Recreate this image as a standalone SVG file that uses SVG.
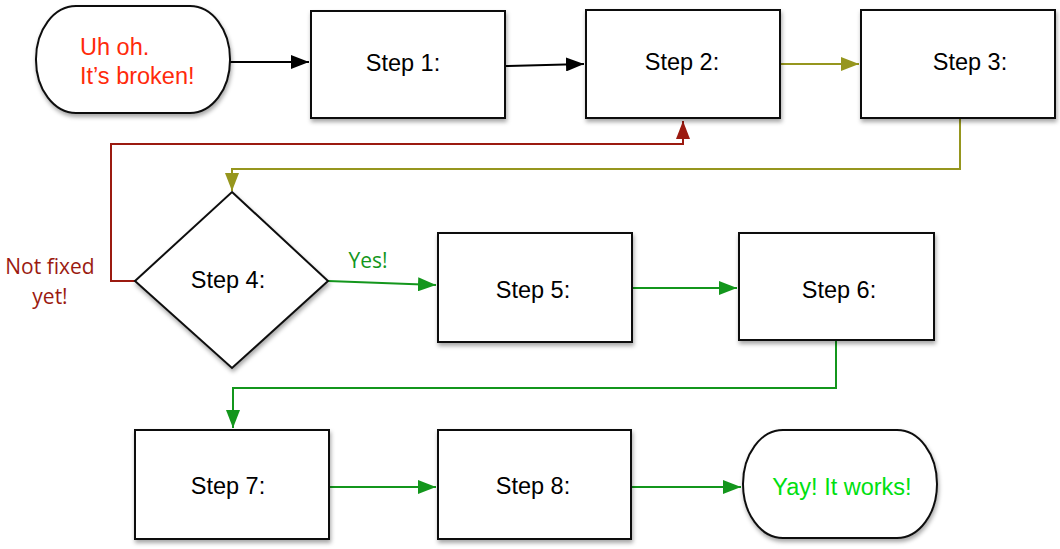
<svg xmlns="http://www.w3.org/2000/svg" width="1060" height="549" viewBox="0 0 1060 549">
<style>
.box{fill:#fff;stroke:#111;stroke-width:2;filter:url(#sh)}
.t{font-family:"Liberation Sans",Arial,sans-serif;font-size:23.5px;fill:#000;text-anchor:middle}
.c{fill:none;stroke-width:2}
.blk{stroke:#000}
.olv{stroke:#96961e}
.red{stroke:#9b1a10}
.grn{stroke:#13961c}
.lbl{font-family:"Open Sans","Noto Sans",sans-serif;font-size:21px}
</style>
<defs>
<filter id="sh" x="-10%" y="-10%" width="125%" height="130%">
<feDropShadow dx="1" dy="3" stdDeviation="2" flood-color="#000" flood-opacity="0.35"/>
</filter>
<marker id="ab" viewBox="0 0 18 14" refX="18" refY="7" markerWidth="18" markerHeight="14" markerUnits="userSpaceOnUse" orient="auto"><path d="M0,0L18,7L0,14z" fill="#000"/></marker>
<marker id="ao" viewBox="0 0 18 14" refX="18" refY="7" markerWidth="18" markerHeight="14" markerUnits="userSpaceOnUse" orient="auto"><path d="M0,0L18,7L0,14z" fill="#96961e"/></marker>
<marker id="ar" viewBox="0 0 18 14" refX="18" refY="7" markerWidth="18" markerHeight="14" markerUnits="userSpaceOnUse" orient="auto"><path d="M0,0L18,7L0,14z" fill="#9b1a10"/></marker>
<marker id="ag" viewBox="0 0 18 14" refX="18" refY="7" markerWidth="18" markerHeight="14" markerUnits="userSpaceOnUse" orient="auto"><path d="M0,0L18,7L0,14z" fill="#13961c"/></marker>
</defs>
<rect width="1060" height="549" fill="#fff"/>
<g id="connectors">
<path class="c blk" d="M230,62H309" marker-end="url(#ab)"/>
<path class="c blk" d="M506,66L584,64" marker-end="url(#ab)"/>
<path class="c olv" d="M780,64H859" marker-end="url(#ao)"/>
<path class="c olv" d="M960,118V169H232V191" marker-end="url(#ao)"/>
<path class="c red" d="M135,281H111V144H683V121" marker-end="url(#ar)"/>
<path class="c grn" d="M328,281L436,285" marker-end="url(#ag)"/>
<path class="c grn" d="M632,288H737" marker-end="url(#ag)"/>
<path class="c grn" d="M836,340V388H233V428" marker-end="url(#ag)"/>
<path class="c grn" d="M329,487H436" marker-end="url(#ag)"/>
<path class="c grn" d="M631,487H741" marker-end="url(#ag)"/>
</g>
<g id="start">
<rect class="box" x="36" y="6" width="194" height="107" rx="40" ry="53"/>
<text x="80" y="55" font-family="Liberation Sans,Arial,sans-serif" font-size="23.5" fill="#ff2a0a">Uh oh.</text>
<text x="80" y="84" font-family="Liberation Sans,Arial,sans-serif" font-size="23.5" fill="#ff2a0a">It’s broken!</text>
</g>
<g id="step1"><rect class="box" x="311" y="11" width="194" height="107"/><text class="t" x="403" y="71">Step 1:</text></g>
<g id="step2"><rect class="box" x="586" y="10" width="194" height="108"/><text class="t" x="682" y="70">Step 2:</text></g>
<g id="step3"><rect class="box" x="861" y="10" width="194" height="108"/><text class="t" x="970" y="70">Step 3:</text></g>
<g id="step4"><path class="box" d="M232,192L328,281L232,368L135,281Z"/><text class="t" x="228" y="288">Step 4:</text></g>
<g id="step5"><rect class="box" x="438" y="233" width="194" height="109"/><text class="t" x="533" y="298">Step 5:</text></g>
<g id="step6"><rect class="box" x="739" y="233" width="195" height="107"/><text class="t" x="839" y="298">Step 6:</text></g>
<g id="step7"><rect class="box" x="135" y="430" width="194" height="109"/><text class="t" x="228" y="494">Step 7:</text></g>
<g id="step8"><rect class="box" x="438" y="430" width="193" height="109"/><text class="t" x="533" y="494">Step 8:</text></g>
<g id="end">
<rect class="box" x="743" y="430" width="194" height="108" rx="40" ry="54"/>
<text x="842" y="495" text-anchor="middle" font-family="Liberation Sans,Arial,sans-serif" font-size="23.5" fill="#00e010">Yay! It works!</text>
</g>
<g id="labels">
<text class="lbl" x="50" y="274" text-anchor="middle" fill="#9b1a10">Not fixed</text>
<text class="lbl" x="50" y="304" text-anchor="middle" fill="#9b1a10">yet!</text>
<text class="lbl" x="368" y="268" text-anchor="middle" fill="#13961c">Yes!</text>
</g>
</svg>
